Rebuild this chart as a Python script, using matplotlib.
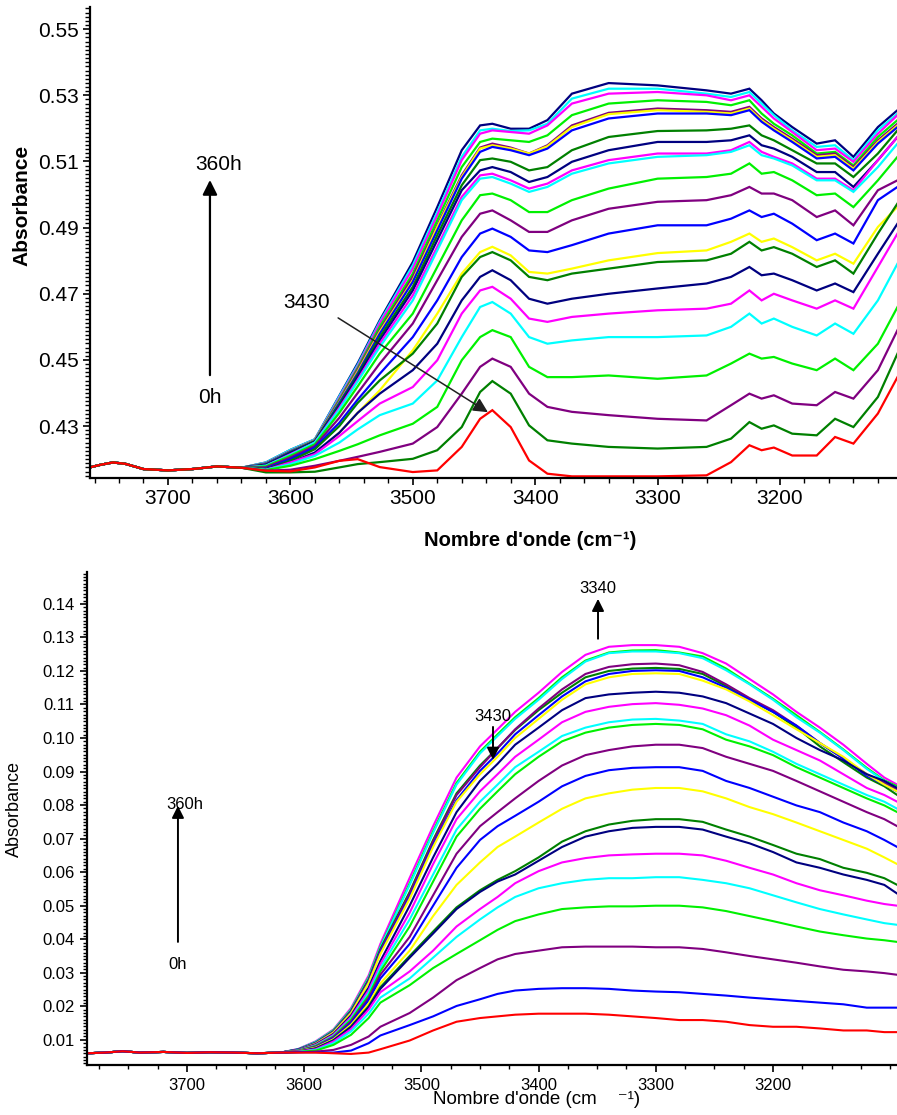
import matplotlib
matplotlib.use("Agg")
import matplotlib.pyplot as plt
from matplotlib.ticker import MultipleLocator, FixedLocator, FormatStrFormatter

plt.rcParams['font.family'] = ['Liberation Sans', 'DejaVu Sans']

# ---------------- data: top panel ----------------
top_base_wn = [3764, 3755, 3745, 3735, 3720, 3700, 3680, 3660, 3640]
top_base_abs = [0.4175, 0.4183, 0.4190, 0.4186, 0.4170, 0.4166, 0.4170, 0.4178, 0.4174]
top_wn = [3620, 3600, 3580, 3560, 3545, 3527, 3500, 3480, 3460, 3445, 3435, 3420, 3405, 3390,
          3370, 3340, 3300, 3260, 3240, 3225, 3215, 3205, 3190, 3170, 3155, 3140, 3120, 3104]
top_colors = ['red', 'dkgreen', 'purple', 'lime', 'cyan', 'magenta', 'navy', 'dkgreen', 'yellow',
              'blue', 'purple', 'lime', 'cyan', 'magenta', 'navy', 'dkgreen', 'blue', 'yellow',
              'purple', 'lime', 'magenta', 'cyan', 'navy']
top_t00 = [0.4165,0.4163,0.4175,0.4195,0.4200,0.4176,0.4161,0.4166,0.4237,0.4322,0.4348,0.4297,0.4196,0.4156,0.4148,0.4148,0.4148,0.4151,0.4191,0.4242,0.4227,0.4235,0.4211,0.4211,0.4267,0.4247,0.4338,0.4448]
top_t01 = [0.4160,0.4160,0.4162,0.4175,0.4185,0.4191,0.4201,0.4227,0.4297,0.4403,0.4436,0.4398,0.4302,0.4257,0.4247,0.4237,0.4232,0.4237,0.4262,0.4312,0.4292,0.4302,0.4277,0.4272,0.4322,0.4297,0.4388,0.4519]
top_t02 = [0.4165,0.4168,0.4180,0.4195,0.4207,0.4222,0.4247,0.4297,0.4398,0.4479,0.4504,0.4479,0.4398,0.4358,0.4343,0.4333,0.4322,0.4317,0.4363,0.4398,0.4383,0.4393,0.4368,0.4363,0.4403,0.4383,0.4469,0.4590]
top_t03 = [0.4167,0.4180,0.4200,0.4225,0.4245,0.4272,0.4307,0.4358,0.4499,0.4569,0.4590,0.4569,0.4479,0.4448,0.4448,0.4453,0.4443,0.4453,0.4489,0.4519,0.4504,0.4509,0.4489,0.4469,0.4504,0.4469,0.4549,0.4660]
top_t04 = [0.4168,0.4185,0.4210,0.4250,0.4290,0.4333,0.4368,0.4438,0.4569,0.4660,0.4675,0.4640,0.4569,0.4549,0.4559,0.4569,0.4569,0.4574,0.4600,0.4640,0.4610,0.4625,0.4600,0.4574,0.4610,0.4579,0.4680,0.4791]
top_t05 = [0.4168,0.4190,0.4215,0.4270,0.4315,0.4368,0.4418,0.4499,0.4640,0.4710,0.4721,0.4685,0.4625,0.4615,0.4630,0.4640,0.4650,0.4655,0.4670,0.4710,0.4680,0.4700,0.4680,0.4655,0.4680,0.4655,0.4781,0.4882]
top_t06 = [0.4170,0.4190,0.4220,0.4280,0.4340,0.4398,0.4469,0.4549,0.4680,0.4751,0.4771,0.4741,0.4685,0.4670,0.4685,0.4700,0.4716,0.4731,0.4751,0.4781,0.4756,0.4761,0.4741,0.4710,0.4731,0.4705,0.4821,0.4912]
top_t07 = [0.4170,0.4195,0.4230,0.4300,0.4370,0.4438,0.4519,0.4610,0.4751,0.4811,0.4826,0.4801,0.4751,0.4741,0.4761,0.4776,0.4796,0.4801,0.4821,0.4857,0.4831,0.4841,0.4821,0.4781,0.4801,0.4761,0.4882,0.4973]
top_t08 = [0.4170,0.4190,0.4215,0.4280,0.4340,0.4408,0.4529,0.4640,0.4761,0.4826,0.4842,0.4816,0.4766,0.4761,0.4776,0.4801,0.4823,0.4831,0.4857,0.4882,0.4857,0.4867,0.4841,0.4801,0.4821,0.4791,0.4902,0.4963]
top_t09 = [0.4172,0.4200,0.4235,0.4310,0.4380,0.4458,0.4569,0.4680,0.4811,0.4882,0.4897,0.4872,0.4831,0.4826,0.4847,0.4882,0.4907,0.4907,0.4927,0.4952,0.4932,0.4942,0.4912,0.4862,0.4882,0.4852,0.4983,0.5023]
top_t10 = [0.4175,0.4205,0.4240,0.4325,0.4400,0.4489,0.4610,0.4741,0.4872,0.4942,0.4952,0.4922,0.4887,0.4887,0.4922,0.4957,0.4978,0.4983,0.4998,0.5023,0.5003,0.5003,0.4983,0.4932,0.4952,0.4907,0.5013,0.5043]
top_t11 = [0.4178,0.4210,0.4245,0.4340,0.4420,0.4519,0.4640,0.4781,0.4922,0.4998,0.5003,0.4983,0.4947,0.4947,0.4983,0.5018,0.5048,0.5053,0.5063,0.5094,0.5063,0.5068,0.5043,0.4998,0.5003,0.4962,0.5043,0.5114]
top_t12 = [0.4180,0.4213,0.4250,0.4350,0.4435,0.4539,0.4680,0.4831,0.4983,0.5048,0.5053,0.5033,0.5008,0.5023,0.5063,0.5094,0.5114,0.5119,0.5129,0.5149,0.5119,0.5109,0.5088,0.5043,0.5043,0.5008,0.5083,0.5154]
top_t13 = [0.4180,0.4215,0.4250,0.4355,0.4440,0.4549,0.4695,0.4842,0.4993,0.5058,0.5063,0.5043,0.5018,0.5033,0.5073,0.5104,0.5124,0.5124,0.5134,0.5159,0.5129,0.5114,0.5094,0.5048,0.5048,0.5013,0.5104,0.5174]
top_t14 = [0.4182,0.4218,0.4252,0.4360,0.4450,0.4559,0.4710,0.4862,0.5013,0.5073,0.5083,0.5068,0.5038,0.5053,0.5099,0.5134,0.5159,0.5159,0.5164,0.5179,0.5149,0.5139,0.5114,0.5068,0.5068,0.5023,0.5104,0.5174]
top_t15 = [0.4183,0.4220,0.4254,0.4365,0.4455,0.4569,0.4721,0.4877,0.5028,0.5104,0.5109,0.5099,0.5073,0.5083,0.5134,0.5174,0.5192,0.5194,0.5199,0.5209,0.5179,0.5164,0.5134,0.5094,0.5094,0.5053,0.5124,0.5194]
top_t16 = [0.4185,0.4222,0.4255,0.4370,0.4460,0.4579,0.4736,0.4892,0.5048,0.5129,0.5144,0.5134,0.5119,0.5139,0.5194,0.5230,0.5245,0.5245,0.5240,0.5255,0.5220,0.5194,0.5159,0.5109,0.5114,0.5073,0.5154,0.5204]
top_t17 = [0.4185,0.4222,0.4256,0.4372,0.4465,0.4585,0.4741,0.4902,0.5053,0.5139,0.5149,0.5139,0.5124,0.5146,0.5204,0.5243,0.5255,0.5250,0.5245,0.5260,0.5225,0.5199,0.5164,0.5114,0.5119,0.5078,0.5159,0.5209]
top_t18 = [0.4186,0.4223,0.4256,0.4375,0.4470,0.4590,0.4751,0.4907,0.5058,0.5142,0.5154,0.5142,0.5124,0.5149,0.5209,0.5247,0.5260,0.5255,0.5250,0.5265,0.5230,0.5204,0.5169,0.5119,0.5124,0.5083,0.5164,0.5214]
top_t19 = [0.4187,0.4224,0.4257,0.4380,0.4475,0.4600,0.4761,0.4922,0.5083,0.5159,0.5169,0.5164,0.5159,0.5179,0.5240,0.5275,0.5285,0.5280,0.5270,0.5285,0.5245,0.5214,0.5179,0.5124,0.5129,0.5088,0.5174,0.5225]
top_t20 = [0.4188,0.4225,0.4258,0.4385,0.4480,0.4610,0.4776,0.4937,0.5104,0.5184,0.5194,0.5189,0.5184,0.5209,0.5275,0.5305,0.5310,0.5300,0.5285,0.5300,0.5265,0.5230,0.5189,0.5134,0.5139,0.5099,0.5184,0.5240]
top_t21 = [0.4190,0.4228,0.4260,0.4390,0.4485,0.4615,0.4786,0.4947,0.5114,0.5194,0.5199,0.5192,0.5194,0.5214,0.5290,0.5320,0.5320,0.5305,0.5295,0.5310,0.5275,0.5240,0.5194,0.5144,0.5149,0.5104,0.5194,0.5245]
top_t22 = [0.4190,0.4228,0.4260,0.4392,0.4490,0.4620,0.4796,0.4962,0.5134,0.5209,0.5214,0.5199,0.5199,0.5225,0.5305,0.5337,0.5330,0.5315,0.5305,0.5320,0.5285,0.5245,0.5204,0.5154,0.5164,0.5114,0.5204,0.5255]
top_yticks = [0.43, 0.45, 0.47, 0.49, 0.51, 0.53, 0.55]
top_xticks = [3700, 3600, 3500, 3400, 3300, 3200]

# ---------------- data: bottom panel ----------------
bot_base_wn = [3785, 3770, 3755, 3740, 3720, 3700, 3680, 3660, 3640, 3620]
bot_base_abs = [0.0060, 0.0062, 0.0066, 0.0062, 0.0064, 0.0061, 0.0063, 0.0062, 0.0060, 0.0062]
bot_wn = [3605, 3590, 3575, 3560, 3545, 3535, 3510, 3490, 3470, 3450, 3435, 3420, 3400, 3380,
          3360, 3340, 3320, 3300, 3280, 3260, 3240, 3220, 3200, 3180, 3160, 3140, 3120, 3105, 3094]
bot_colors = ['red', 'blue', 'purple', 'lime', 'cyan', 'magenta', 'navy', 'dkgreen', 'yellow',
              'blue', 'purple', 'lime', 'cyan', 'magenta', 'navy', 'yellow', 'blue', 'purple',
              'dkgreen', 'cyan', 'lime', 'magenta']
bot_b00 = [0.0062,0.0062,0.0060,0.0058,0.0062,0.0072,0.0098,0.0128,0.0154,0.0165,0.0170,0.0175,0.0178,0.0178,0.0178,0.0175,0.0170,0.0165,0.0159,0.0159,0.0154,0.0144,0.0139,0.0139,0.0134,0.0128,0.0128,0.0123,0.0123]
bot_b01 = [0.0063,0.0063,0.0062,0.0068,0.0090,0.0113,0.0144,0.0170,0.0201,0.0221,0.0237,0.0247,0.0252,0.0254,0.0254,0.0252,0.0247,0.0244,0.0242,0.0237,0.0232,0.0226,0.0221,0.0216,0.0211,0.0206,0.0196,0.0196,0.0196]
bot_b02 = [0.0063,0.0065,0.0070,0.0085,0.0110,0.0139,0.0180,0.0226,0.0278,0.0314,0.0340,0.0356,0.0366,0.0376,0.0378,0.0378,0.0378,0.0376,0.0376,0.0371,0.0361,0.0350,0.0340,0.0330,0.0319,0.0309,0.0304,0.0299,0.0294]
bot_b03 = [0.0064,0.0068,0.0085,0.0115,0.0165,0.0211,0.0263,0.0314,0.0356,0.0397,0.0428,0.0454,0.0474,0.0490,0.0495,0.0498,0.0498,0.0500,0.0500,0.0495,0.0484,0.0469,0.0454,0.0438,0.0423,0.0412,0.0402,0.0397,0.0392]
bot_b04 = [0.0064,0.0070,0.0090,0.0125,0.0178,0.0226,0.0283,0.0345,0.0407,0.0459,0.0495,0.0526,0.0552,0.0567,0.0577,0.0582,0.0582,0.0585,0.0585,0.0577,0.0567,0.0552,0.0531,0.0510,0.0490,0.0474,0.0459,0.0448,0.0443]
bot_b05 = [0.0065,0.0072,0.0095,0.0132,0.0190,0.0242,0.0304,0.0366,0.0438,0.0490,0.0526,0.0567,0.0603,0.0629,0.0642,0.0650,0.0653,0.0655,0.0655,0.0650,0.0634,0.0613,0.0593,0.0567,0.0546,0.0531,0.0515,0.0505,0.0500]
bot_b06 = [0.0065,0.0074,0.0098,0.0138,0.0197,0.0252,0.0345,0.0417,0.0490,0.0541,0.0572,0.0593,0.0634,0.0675,0.0706,0.0722,0.0732,0.0735,0.0735,0.0727,0.0706,0.0686,0.0660,0.0629,0.0613,0.0593,0.0577,0.0562,0.0536]
bot_b07 = [0.0065,0.0075,0.0099,0.0140,0.0200,0.0257,0.0350,0.0423,0.0495,0.0546,0.0577,0.0603,0.0644,0.0691,0.0722,0.0742,0.0753,0.0758,0.0758,0.0750,0.0727,0.0706,0.0681,0.0655,0.0639,0.0613,0.0598,0.0582,0.0562]
bot_b08 = [0.0066,0.0077,0.0102,0.0145,0.0208,0.0268,0.0366,0.0469,0.0562,0.0629,0.0675,0.0706,0.0748,0.0789,0.0820,0.0835,0.0846,0.0851,0.0851,0.0841,0.0820,0.0794,0.0773,0.0748,0.0722,0.0696,0.0670,0.0644,0.0624]
bot_b09 = [0.0066,0.0078,0.0105,0.0150,0.0218,0.0283,0.0386,0.0500,0.0613,0.0696,0.0737,0.0768,0.0810,0.0856,0.0887,0.0904,0.0911,0.0913,0.0913,0.0902,0.0872,0.0851,0.0825,0.0799,0.0779,0.0748,0.0722,0.0696,0.0675]
bot_b10 = [0.0067,0.0080,0.0108,0.0155,0.0225,0.0294,0.0407,0.0531,0.0655,0.0737,0.0779,0.0820,0.0872,0.0918,0.0949,0.0964,0.0975,0.0980,0.0980,0.0970,0.0944,0.0923,0.0902,0.0872,0.0841,0.0810,0.0779,0.0758,0.0737]
bot_b11 = [0.0068,0.0082,0.0110,0.0160,0.0232,0.0304,0.0438,0.0572,0.0706,0.0789,0.0841,0.0892,0.0944,0.0990,0.1016,0.1031,0.1039,0.1042,0.1039,0.1026,0.0995,0.0975,0.0949,0.0913,0.0882,0.0851,0.0820,0.0799,0.0779]
bot_b12 = [0.0068,0.0083,0.0112,0.0163,0.0240,0.0314,0.0459,0.0593,0.0727,0.0810,0.0861,0.0913,0.0959,0.1006,0.1031,0.1047,0.1055,0.1057,0.1052,0.1042,0.1011,0.0990,0.0959,0.0923,0.0892,0.0861,0.0830,0.0810,0.0789]
bot_b13 = [0.0069,0.0085,0.0115,0.0168,0.0248,0.0325,0.0479,0.0624,0.0758,0.0841,0.0892,0.0944,0.0995,0.1047,0.1078,0.1093,0.1101,0.1104,0.1099,0.1088,0.1068,0.1037,0.0995,0.0964,0.0933,0.0892,0.0851,0.0830,0.0810]
bot_b14 = [0.0070,0.0087,0.0118,0.0173,0.0256,0.0335,0.0500,0.0644,0.0779,0.0872,0.0923,0.0980,0.1031,0.1083,0.1119,0.1130,0.1135,0.1138,0.1135,0.1124,0.1104,0.1073,0.1042,0.1000,0.0964,0.0933,0.0892,0.0872,0.0851]
bot_b15 = [0.0070,0.0089,0.0122,0.0180,0.0270,0.0356,0.0521,0.0675,0.0810,0.0892,0.0944,0.1000,0.1057,0.1114,0.1160,0.1181,0.1191,0.1193,0.1191,0.1171,0.1145,0.1109,0.1068,0.1026,0.0985,0.0944,0.0892,0.0861,0.0841]
bot_b16 = [0.0071,0.0090,0.0123,0.0182,0.0273,0.0361,0.0526,0.0681,0.0815,0.0902,0.0954,0.1011,0.1068,0.1124,0.1169,0.1191,0.1200,0.1202,0.1200,0.1181,0.1150,0.1114,0.1078,0.1037,0.0985,0.0939,0.0887,0.0861,0.0841]
bot_b17 = [0.0071,0.0091,0.0125,0.0185,0.0277,0.0366,0.0536,0.0691,0.0830,0.0913,0.0970,0.1026,0.1088,0.1145,0.1191,0.1212,0.1220,0.1222,0.1217,0.1197,0.1160,0.1119,0.1083,0.1037,0.0985,0.0939,0.0892,0.0866,0.0846]
bot_b18 = [0.0071,0.0092,0.0126,0.0187,0.0280,0.0371,0.0541,0.0696,0.0835,0.0918,0.0970,0.1024,0.1083,0.1135,0.1181,0.1200,0.1207,0.1209,0.1206,0.1191,0.1155,0.1114,0.1078,0.1031,0.0975,0.0928,0.0882,0.0856,0.0830]
bot_b19 = [0.0072,0.0094,0.0128,0.0190,0.0284,0.0376,0.0562,0.0717,0.0861,0.0954,0.1006,0.1057,0.1114,0.1176,0.1228,0.1253,0.1258,0.1258,0.1253,0.1238,0.1202,0.1160,0.1114,0.1062,0.1016,0.0964,0.0908,0.0872,0.0851]
bot_b20 = [0.0072,0.0094,0.0129,0.0191,0.0286,0.0378,0.0567,0.0722,0.0866,0.0959,0.1011,0.1062,0.1119,0.1181,0.1231,0.1255,0.1261,0.1262,0.1255,0.1243,0.1207,0.1162,0.1117,0.1068,0.1018,0.0966,0.0911,0.0874,0.0856]
bot_b21 = [0.0073,0.0096,0.0131,0.0195,0.0292,0.0386,0.0583,0.0737,0.0882,0.0975,0.1026,0.1078,0.1135,0.1197,0.1248,0.1272,0.1277,0.1277,0.1272,0.1253,0.1222,0.1176,0.1130,0.1078,0.1031,0.0980,0.0923,0.0882,0.0861]
bot_yticks = [0.01, 0.02, 0.03, 0.04, 0.05, 0.06, 0.07, 0.08, 0.09, 0.10, 0.11, 0.12, 0.13, 0.14]
bot_xticks = [3700, 3600, 3500, 3400, 3300, 3200]

top_series = [top_t00, top_t01, top_t02, top_t03, top_t04, top_t05, top_t06, top_t07, top_t08,
              top_t09, top_t10, top_t11, top_t12, top_t13, top_t14, top_t15, top_t16, top_t17,
              top_t18, top_t19, top_t20, top_t21, top_t22]
bot_series = [bot_b00, bot_b01, bot_b02, bot_b03, bot_b04, bot_b05, bot_b06, bot_b07, bot_b08,
              bot_b09, bot_b10, bot_b11, bot_b12, bot_b13, bot_b14, bot_b15, bot_b16, bot_b17,
              bot_b18, bot_b19, bot_b20, bot_b21]

PALETTE = {'red': '#FF0000', 'dkgreen': '#008000', 'purple': '#800080', 'lime': '#00F000',
           'cyan': '#00FFFF', 'magenta': '#FF00FF', 'navy': '#000080', 'yellow': '#FFFF00',
           'blue': '#0000FF'}

fig = plt.figure(figsize=(8.97, 11.15), dpi=100)
fig.patch.set_facecolor('white')

def style_axes(ax):
    for s in ('top', 'right'):
        ax.spines[s].set_visible(False)
    for s in ('left', 'bottom'):
        ax.spines[s].set_linewidth(1.6)
        ax.spines[s].set_color('black')

# ---------------- top panel ----------------
ax1 = fig.add_axes([90/897, 1-478/1115, 807/897, 471/1115])
style_axes(ax1)
for vals, cname in reversed(list(zip(top_series, top_colors))):
    ax1.plot(top_base_wn + top_wn, top_base_abs + vals, color=PALETTE[cname], lw=1.6,
             solid_joinstyle='miter')
ax1.set_xlim(3763.7, 3104.4)
ax1.set_ylim(0.4143, 0.5567)
ax1.xaxis.set_major_locator(FixedLocator(top_xticks))
ax1.xaxis.set_minor_locator(MultipleLocator(20))
ax1.yaxis.set_major_locator(FixedLocator(top_yticks))
ax1.yaxis.set_minor_locator(MultipleLocator(0.00125))
ax1.yaxis.set_major_formatter(FormatStrFormatter('%.2f'))
ax1.tick_params(axis='both', which='major', labelsize=15, length=5, width=1.2, direction='out', pad=3)
ax1.tick_params(axis='both', which='minor', length=3.5, width=1.0, direction='out')
ax1.set_ylabel('Absorbance', fontsize=15, fontweight='bold')
ax1.yaxis.set_label_coords((22-90)/807, (478-205)/471)
ax1.yaxis.label.set_va('center')
ax1.set_xlabel("Nombre d'onde (cm\u207b\u00b9)", fontsize=14.5, fontweight='bold')
ax1.xaxis.set_label_coords((530-90)/807, -(540-478)/471)
ax1.xaxis.label.set_va('center')
ax1.annotate('', xy=(3665.7, 0.5044), xytext=(3665.7, 0.4454),
             arrowprops=dict(arrowstyle='-|>', color='black', lw=1.6, mutation_scale=22,
                             shrinkA=0, shrinkB=0))
ax1.text(3659, 0.5092, '360h', fontsize=15, ha='center', va='center')
ax1.text(3666, 0.4385, '0h', fontsize=15, ha='center', va='center')
ax1.text(3587, 0.4675, '3430', fontsize=15, ha='center', va='center')
ax1.annotate('', xy=(3438.6, 0.4342), xytext=(3561, 0.4627),
             arrowprops=dict(arrowstyle='-|>', color='#202020', lw=1.1, mutation_scale=22,
                             shrinkA=0, shrinkB=0))

# ---------------- bottom panel ----------------
ax2 = fig.add_axes([87/897, 1-1065/1115, 810/897, 493/1115])
style_axes(ax2)
for vals, cname in reversed(list(zip(bot_series, bot_colors))):
    ax2.plot(bot_base_wn + bot_wn, bot_base_abs + vals, color=PALETTE[cname], lw=1.5,
             solid_joinstyle='miter')
ax2.set_xlim(3785.3, 3094.2)
ax2.set_ylim(0.0025, 0.1495)
ax2.xaxis.set_major_locator(FixedLocator(bot_xticks))
ax2.xaxis.set_minor_locator(MultipleLocator(25))
ax2.yaxis.set_major_locator(FixedLocator(bot_yticks))
ax2.yaxis.set_minor_locator(MultipleLocator(0.001))
ax2.yaxis.set_major_formatter(FormatStrFormatter('%.2f'))
ax2.tick_params(axis='both', which='major', labelsize=12, length=5, width=1.2, direction='out', pad=4)
ax2.tick_params(axis='both', which='minor', length=3, width=1.0, direction='out')
ax2.set_ylabel('Absorbance', fontsize=13)
ax2.yaxis.set_label_coords((14-87)/810, (1065-809)/493)
ax2.yaxis.label.set_va('center')
ax2.set_xlabel("Nombre d'onde (cm    \u207b\u00b9)", fontsize=13.5)
ax2.xaxis.set_label_coords((537-87)/810, -(1100-1065)/493)
ax2.xaxis.label.set_va('center')
ax2.annotate('', xy=(3707.7, 0.0798), xytext=(3707.7, 0.0392),
             arrowprops=dict(arrowstyle='-|>', color='black', lw=1.4, mutation_scale=18,
                             shrinkA=0, shrinkB=0))
ax2.text(3701.7, 0.0801, '360h', fontsize=12, ha='center', va='center')
ax2.text(3707.7, 0.0324, '0h', fontsize=12, ha='center', va='center')
ax2.text(3438.9, 0.1063, '3430', fontsize=12, ha='center', va='center')
ax2.annotate('', xy=(3438.9, 0.0935), xytext=(3438.9, 0.1033),
             arrowprops=dict(arrowstyle='-|>', color='black', lw=1.4, mutation_scale=18,
                             shrinkA=0, shrinkB=0))
ax2.text(3349.3, 0.1445, '3340', fontsize=12, ha='center', va='center')
ax2.annotate('', xy=(3349.3, 0.1415), xytext=(3349.3, 0.1296),
             arrowprops=dict(arrowstyle='-|>', color='black', lw=1.4, mutation_scale=18,
                             shrinkA=0, shrinkB=0))

fig.savefig('out.png', dpi=100, facecolor='white')
